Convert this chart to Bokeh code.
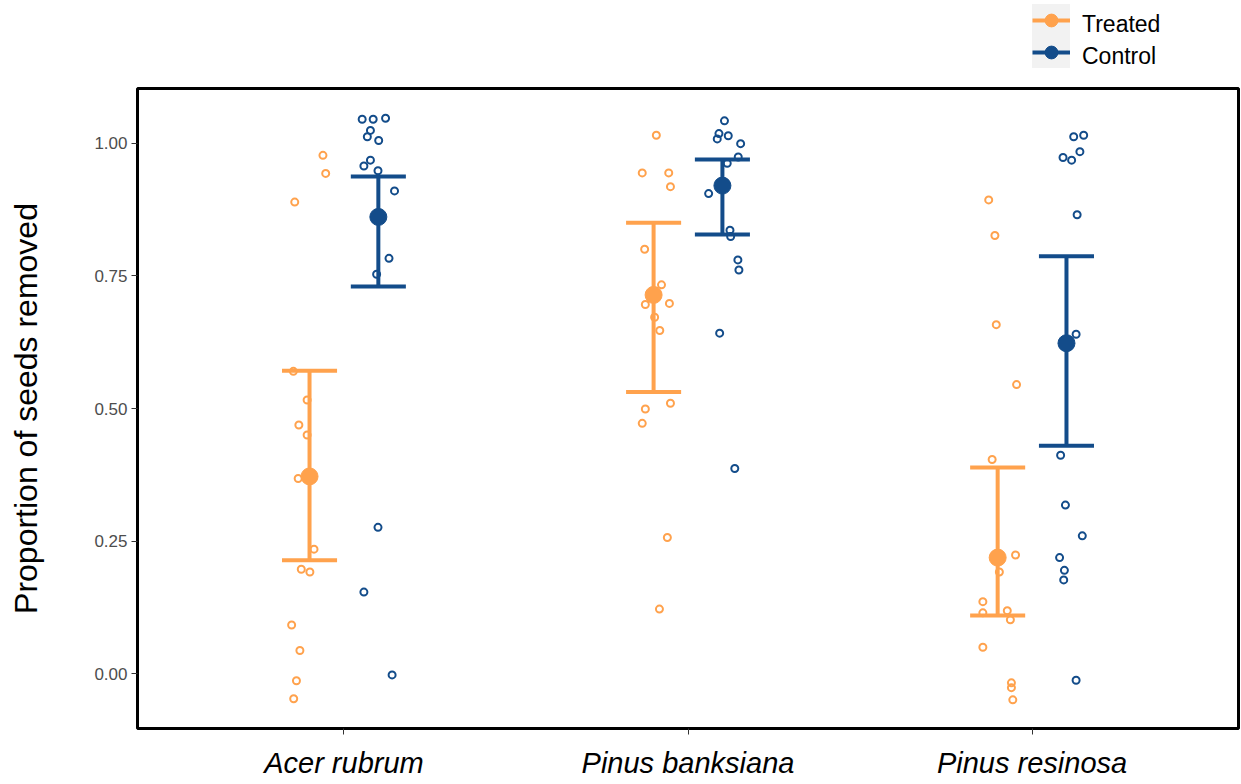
from bokeh.plotting import figure
from bokeh.layouts import column
from bokeh.models import ColumnDataSource, FixedTicker, Legend, LegendItem, Range1d
from bokeh.embed import file_html
from bokeh.resources import INLINE

# ---------------- data ----------------
species = ["Acer rubrum", "Pinus banksiana", "Pinus resinosa"]
treatments = ["Treated", "Control"]
colors = {"Treated": "#FFA24D", "Control": "#134C8A"}

# group means and confidence limits (per species)
treated_mean = [0.372, 0.714, 0.219]
treated_lower = [0.214, 0.531, 0.110]
treated_upper = [0.571, 0.850, 0.389]
control_mean = [0.861, 0.920, 0.623]
control_lower = [0.730, 0.828, 0.430]
control_upper = [0.937, 0.969, 0.787]

# raw observations (proportion removed) and their horizontal jitter from the species position
acer_treated_y = [0.977, 0.943, 0.889, 0.570, 0.516, 0.469, 0.450, 0.368, 0.235, 0.197, 0.192, 0.092, 0.044, -0.013, -0.047]
acer_treated_jit = [-0.061, -0.053, -0.143, -0.147, -0.107, -0.131, -0.107, -0.133, -0.087, -0.124, -0.099, -0.152, -0.128, -0.138, -0.146]
acer_control_y = [1.045, 1.045, 1.047, 1.024, 1.012, 1.005, 0.968, 0.957, 0.948, 0.910, 0.783, 0.753, 0.276, 0.154, -0.002]
acer_control_jit = [0.053, 0.085, 0.121, 0.077, 0.068, 0.101, 0.077, 0.058, 0.099, 0.147, 0.131, 0.095, 0.099, 0.058, 0.140]

banks_treated_y = [1.015, 0.944, 0.944, 0.918, 0.800, 0.733, 0.696, 0.698, 0.672, 0.647, 0.510, 0.499, 0.472, 0.257, 0.122]
banks_treated_jit = [-0.092, -0.133, -0.056, -0.051, -0.126, -0.077, -0.124, -0.054, -0.097, -0.082, -0.051, -0.124, -0.133, -0.060, -0.083]
banks_control_y = [1.042, 1.018, 1.014, 1.008, 0.999, 0.974, 0.962, 0.905, 0.836, 0.824, 0.780, 0.761, 0.642, 0.387]
banks_control_jit = [0.106, 0.090, 0.117, 0.085, 0.153, 0.146, 0.114, 0.060, 0.122, 0.124, 0.145, 0.148, 0.092, 0.136]

resin_treated_y = [0.893, 0.826, 0.658, 0.545, 0.404, 0.224, 0.192, 0.136, 0.115, 0.119, 0.102, 0.050, -0.017, -0.026, -0.049]
resin_treated_jit = [-0.126, -0.108, -0.104, -0.045, -0.116, -0.048, -0.095, -0.143, -0.143, -0.072, -0.063, -0.143, -0.060, -0.060, -0.056]
resin_control_y = [1.012, 1.015, 0.984, 0.973, 0.968, 0.865, 0.640, 0.412, 0.318, 0.260, 0.219, 0.195, 0.177, -0.012]
resin_control_jit = [0.121, 0.150, 0.139, 0.090, 0.115, 0.131, 0.128, 0.083, 0.097, 0.146, 0.080, 0.094, 0.092, 0.128]

y_ticks = [0.0, 0.25, 0.50, 0.75, 1.00]
y_tick_labels = ["0.00", "0.25", "0.50", "0.75", "1.00"]

dodge = {"Treated": -0.1, "Control": 0.1}
cap_half = 0.08

FONT = "Liberation Sans"
W = 1240
LEG_H = 85
MAIN_H = 697
FRAME_LEFT = 137

# ---------------- main figure ----------------
p = figure(width=W, height=MAIN_H, x_range=Range1d(0.4, 3.6), y_range=Range1d(-0.103, 1.103),
           output_backend="svg", toolbar_location=None,
           min_border_left=FRAME_LEFT, min_border_right=2, min_border_top=3, min_border_bottom=54)
p.background_fill_color = "white"
p.border_fill_color = "white"
p.grid.visible = False
p.outline_line_color = "black"
p.outline_line_width = 3

positions = list(range(1, len(species) + 1))

raw = {
    "Treated": [(acer_treated_y, acer_treated_jit), (banks_treated_y, banks_treated_jit), (resin_treated_y, resin_treated_jit)],
    "Control": [(acer_control_y, acer_control_jit), (banks_control_y, banks_control_jit), (resin_control_y, resin_control_jit)],
}
stats = {
    "Treated": (treated_mean, treated_lower, treated_upper),
    "Control": (control_mean, control_lower, control_upper),
}

for t in treatments:
    xs, ys = [], []
    for pos, (yv, jv) in zip(positions, raw[t]):
        xs += [pos + j for j in jv]
        ys += list(yv)
    p.scatter(x=xs, y=ys, marker="circle", size=7, fill_color=None,
              line_color=colors[t], line_width=2)

mean_sources = {}
for t in treatments:
    m, lo, hi = stats[t]
    cx = [pos + dodge[t] for pos in positions]
    x0 = cx + [c - cap_half for c in cx] + [c - cap_half for c in cx]
    x1 = cx + [c + cap_half for c in cx] + [c + cap_half for c in cx]
    y0 = list(lo) + list(hi) + list(lo)
    y1 = list(hi) + list(hi) + list(lo)
    src = ColumnDataSource(dict(x0=x0, x1=x1, y0=y0, y1=y1))
    p.segment(x0="x0", y0="y0", x1="x1", y1="y1", source=src,
              line_color=colors[t], line_width=4, line_cap="butt")
for t in treatments:
    m, lo, hi = stats[t]
    cx = [pos + dodge[t] for pos in positions]
    mean_sources[t] = ColumnDataSource(dict(x=cx, y=list(m)))
    p.scatter(x="x", y="y", source=mean_sources[t], marker="circle", size=17,
              fill_color=colors[t], line_color=colors[t])

p.yaxis.ticker = FixedTicker(ticks=y_ticks)
p.yaxis.major_label_overrides = {v: s for v, s in zip(y_ticks, y_tick_labels)}
p.yaxis.axis_label = "Proportion of seeds removed"
p.yaxis.axis_label_text_font = FONT
p.yaxis.axis_label_text_font_size = "32px"
p.yaxis.axis_label_text_font_style = "normal"
p.yaxis.axis_label_text_color = "black"
p.yaxis.axis_label_standoff = 47
p.yaxis.major_label_text_font = FONT
p.yaxis.major_label_text_font_size = "17px"
p.yaxis.major_label_text_color = "#4D4D4D"
p.yaxis.major_label_standoff = 4

p.xaxis.ticker = FixedTicker(ticks=positions)
p.xaxis.major_label_overrides = {pos: s for pos, s in zip(positions, species)}
p.xaxis.major_label_text_font = FONT
p.xaxis.major_label_text_font_size = "29px"
p.xaxis.major_label_text_font_style = "italic"
p.xaxis.major_label_text_color = "black"
p.xaxis.major_label_standoff = 12

for ax in (p.xaxis, p.yaxis):
    ax.axis_line_color = None
    ax.major_tick_line_color = "#333333"
    ax.major_tick_line_width = 1
    ax.major_tick_out = 6
    ax.major_tick_in = 0
    ax.minor_tick_line_color = None

# ---------------- legend strip above the panel ----------------
# the strip's ranges are chosen so that its (legend-only) renderers fall outside its view
lf = figure(width=W, height=LEG_H, x_range=Range1d(-2, -1), y_range=Range1d(-2, -1),
            output_backend="svg", toolbar_location=None,
            x_axis_location=None, y_axis_location=None,
            min_border_left=FRAME_LEFT, min_border_right=2, min_border_top=0, min_border_bottom=0)
lf.grid.visible = False
lf.outline_line_color = None
lf.background_fill_color = "white"
lf.border_fill_color = "white"

key_items = []
label_items = []
for t in treatments:
    bar = lf.line(x="x", y="y", source=mean_sources[t], line_color=colors[t], line_width=4)
    dot = lf.scatter(x="x", y="y", source=mean_sources[t], marker="circle",
                     fill_color=colors[t], line_color=colors[t])
    ghost = lf.scatter(x="x", y="y", source=mean_sources[t], marker="circle", size=1,
                       fill_alpha=0, line_alpha=0)
    key_items.append(LegendItem(label=" ", renderers=[bar, dot]))
    label_items.append(LegendItem(label=t, renderers=[ghost]))

# legend locations are in pixels from the strip's frame bottom-left corner
key_legend = Legend(items=key_items, location=(1032 - FRAME_LEFT, 17), orientation="vertical",
                    glyph_width=38, glyph_height=32, label_height=32, label_width=0,
                    label_standoff=0, label_text_font_size="1px", spacing=0, padding=0, margin=0,
                    background_fill_color="#F2F2F2", background_fill_alpha=1.0,
                    border_line_color=None)
lf.add_layout(key_legend, "center")

label_legend = Legend(items=label_items, location=(1081 - FRAME_LEFT, 13), orientation="vertical",
                      glyph_width=1, glyph_height=32, label_height=32, label_width=0,
                      label_standoff=0, spacing=0, padding=0, margin=0,
                      label_text_font=FONT, label_text_font_size="23px", label_text_color="black",
                      background_fill_alpha=0, border_line_color=None)
lf.add_layout(label_legend, "center")

layout = column(lf, p, spacing=0)
open("out.html", "w").write(file_html(layout, INLINE))
